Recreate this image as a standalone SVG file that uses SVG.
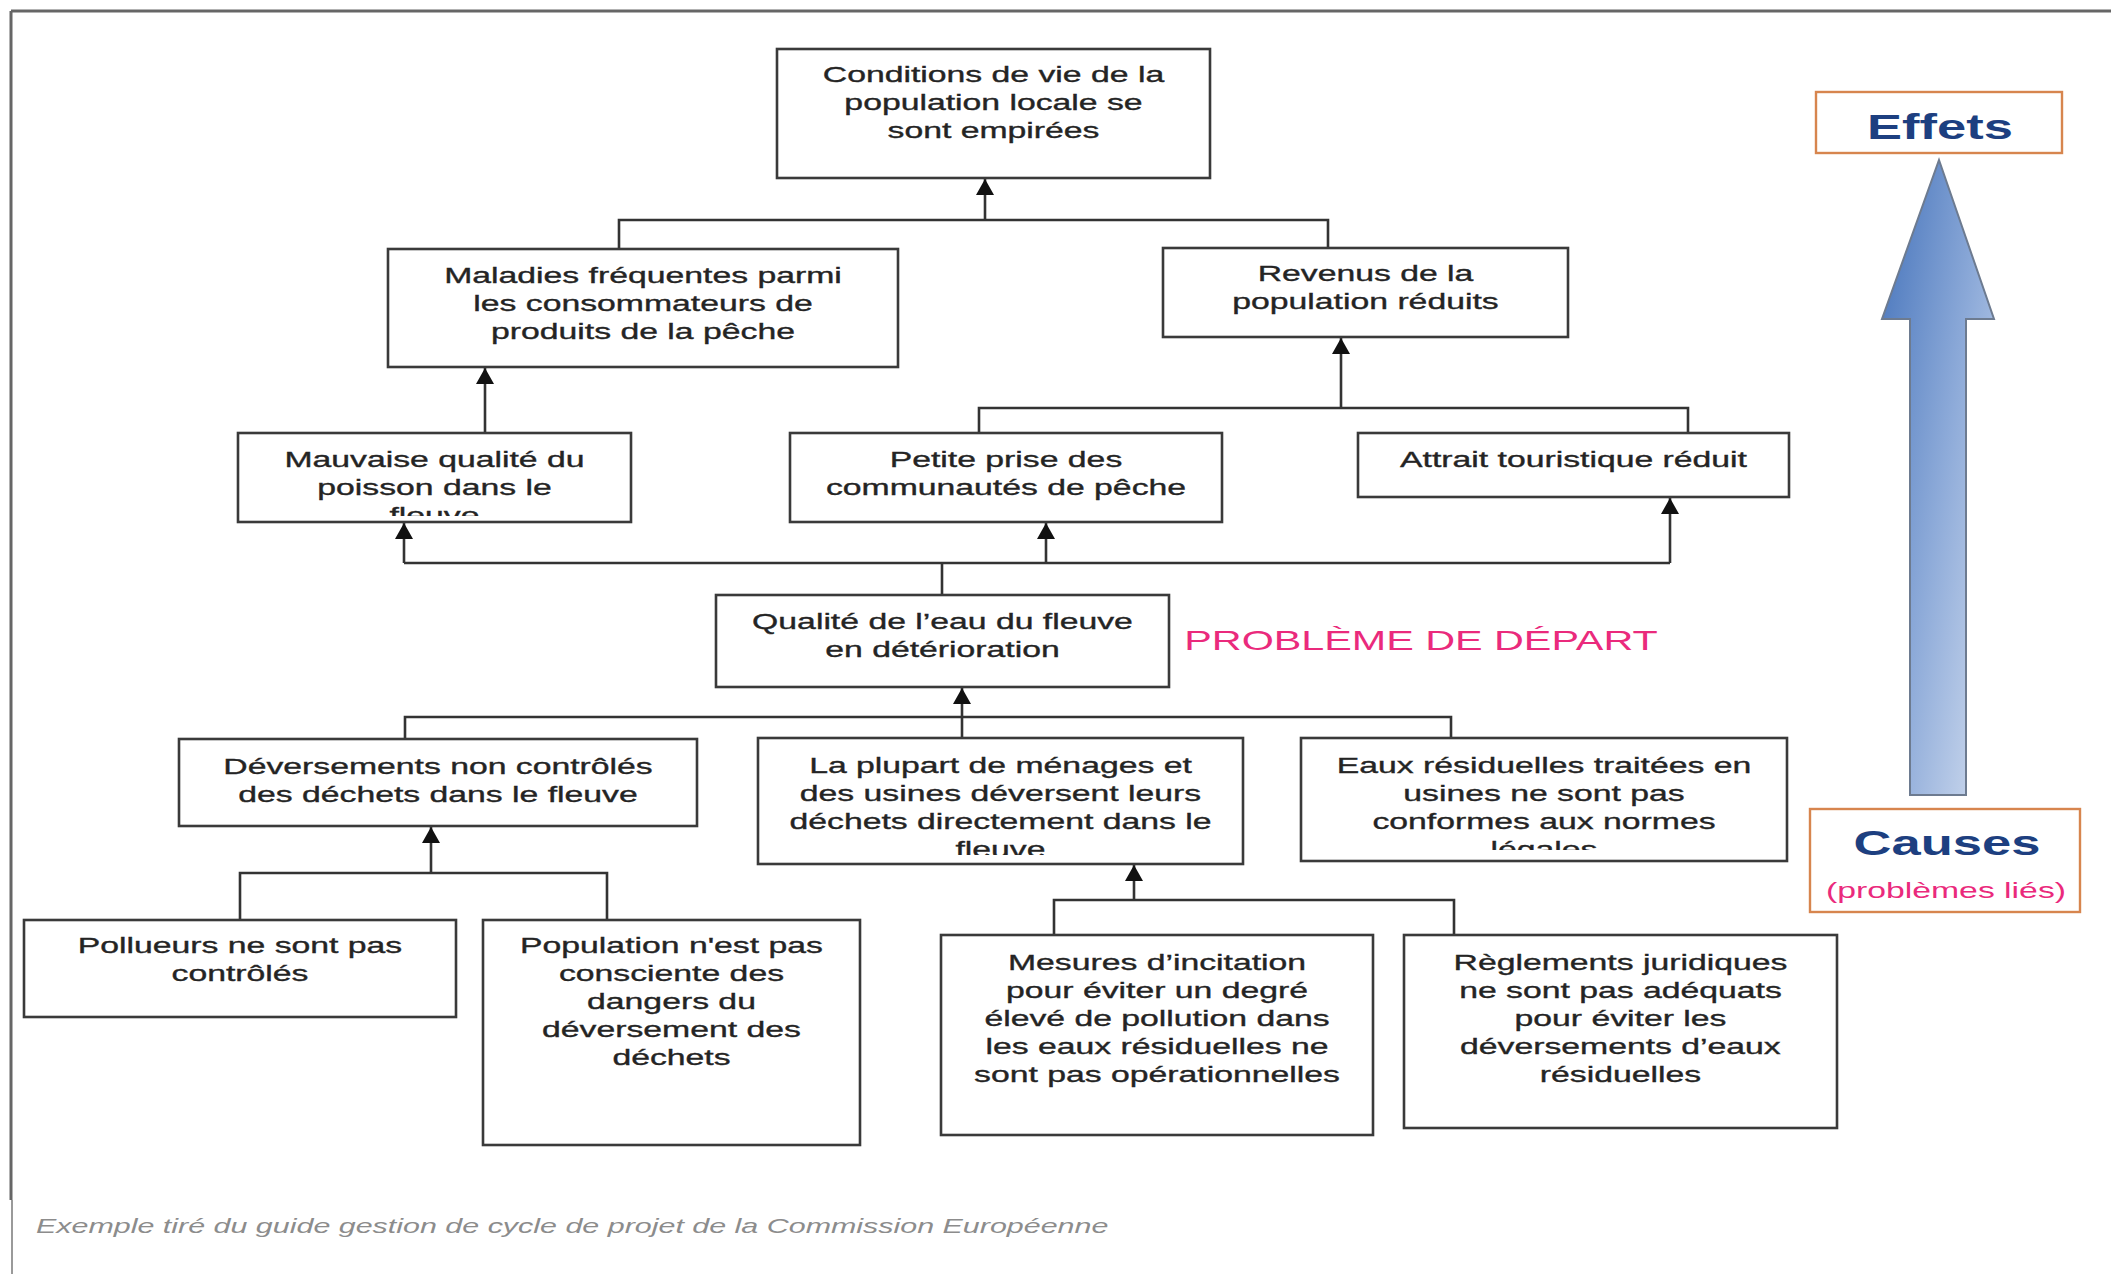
<svg xmlns="http://www.w3.org/2000/svg" width="2111" height="1274" viewBox="0 0 2111 1274">
  <style>
    .box { fill: #ffffff; stroke: #3a3a3a; stroke-width: 2.6; }
    .lbl { font-family: "Liberation Sans", Arial, Helvetica, sans-serif; font-size: 22.5px; fill: #242424; stroke: #242424; stroke-width: 0.35px; text-anchor: middle; transform-box: fill-box; transform-origin: center; transform: scaleX(1.5); }
    .wire { fill: none; stroke: #333333; stroke-width: 2.6; }
    .arrow { fill: none; stroke: #333333; stroke-width: 2.6; marker-end: url(#head); }
    .frame { fill: none; stroke: #666666; stroke-width: 3; }
    .legend { fill: #ffffff; stroke: #d7854e; stroke-width: 2.4; }
    .big { font-family: "Liberation Sans", Arial, Helvetica, sans-serif; font-weight: bold; font-size: 35px; fill: #1d3f80; text-anchor: middle; transform-box: fill-box; transform-origin: center; transform: scaleX(1.5); }
    .pink { font-family: "Liberation Sans", Arial, Helvetica, sans-serif; fill: #ea2a7c; text-anchor: middle; transform-box: fill-box; transform-origin: center; transform: scaleX(1.5); }
    .note { font-family: "Liberation Sans", Arial, Helvetica, sans-serif; font-style: italic; font-size: 20.3px; fill: #8c8c8c; transform-box: fill-box; transform-origin: 0 50%; transform: scaleX(1.5); }
  </style>
  <defs>
    <marker id="head" viewBox="0 0 16 18" refX="16" refY="9" markerWidth="16" markerHeight="18" markerUnits="userSpaceOnUse" orient="auto">
      <path d="M0,0 L16,9 L0,18 Z" fill="#111111"/>
    </marker>
    <linearGradient id="blueUp" x1="0" y1="0.1" x2="1" y2="1">
      <stop offset="0" stop-color="#4a77bd"/>
      <stop offset="0.5" stop-color="#8eabd9"/>
      <stop offset="1" stop-color="#d3def0"/>
    </linearGradient>
    <clipPath id="cutMauvaise"><rect x="238" y="433" width="393" height="83"/></clipPath>
    <clipPath id="cutPlupart"><rect x="758" y="738" width="485" height="117"/></clipPath>
    <clipPath id="cutEaux"><rect x="1301" y="738" width="486" height="112"/></clipPath>
  </defs>

  <rect x="0" y="0" width="2111" height="1274" fill="#ffffff"/>

  <!-- page frame -->
  <path class="frame" d="M11,11 H2111 M11,11 V1200"/>
  <path d="M12,1200 V1274" fill="none" stroke="#9a9a9a" stroke-width="2"/>

  <!-- connectors -->
  <g id="connectors">
    <path class="wire" d="M619,249 V220 H1328 V248"/>
    <path class="arrow" d="M985,220 V179"/>
    <path class="arrow" d="M485,433 V368"/>
    <path class="wire" d="M979,433 V408 H1688 V433"/>
    <path class="arrow" d="M1341,408 V338"/>
    <path class="wire" d="M942,595 V563 M404,563 H1670"/>
    <path class="arrow" d="M404,563 V523"/>
    <path class="arrow" d="M1046,563 V523"/>
    <path class="arrow" d="M1670,563 V498"/>
    <path class="wire" d="M405,739 V717 H1451 V738"/>
    <path class="arrow" d="M962,738 V688"/>
    <path class="wire" d="M240,920 V873 H607 V920"/>
    <path class="arrow" d="M431,873 V827"/>
    <path class="wire" d="M1054,935 V900 H1454 V935"/>
    <path class="arrow" d="M1134,900 V865"/>
  </g>

  <!-- effects -->
  <g id="n-conditions">
    <rect class="box" x="777" y="49" width="433" height="129"/>
    <text class="lbl" x="993.5" y="82">Conditions de vie de la</text>
    <text class="lbl" x="993.5" y="110">population locale se</text>
    <text class="lbl" x="993.5" y="138">sont empirées</text>
  </g>
  <g id="n-maladies">
    <rect class="box" x="388" y="249" width="510" height="118"/>
    <text class="lbl" x="643" y="283">Maladies fréquentes parmi</text>
    <text class="lbl" x="643" y="311">les consommateurs de</text>
    <text class="lbl" x="643" y="339">produits de la pêche</text>
  </g>
  <g id="n-revenus">
    <rect class="box" x="1163" y="248" width="405" height="89"/>
    <text class="lbl" x="1365.5" y="281">Revenus de la</text>
    <text class="lbl" x="1365.5" y="309">population réduits</text>
  </g>
  <g id="n-mauvaise">
    <rect class="box" x="238" y="433" width="393" height="89"/>
    <text class="lbl" x="434.5" y="467">Mauvaise qualité du</text>
    <text class="lbl" x="434.5" y="495">poisson dans le</text>
    <g clip-path="url(#cutMauvaise)">
      <text class="lbl" x="434.5" y="523">fleuve</text>
    </g>
  </g>
  <g id="n-petite">
    <rect class="box" x="790" y="433" width="432" height="89"/>
    <text class="lbl" x="1006" y="467">Petite prise des</text>
    <text class="lbl" x="1006" y="495">communautés de pêche</text>
  </g>
  <g id="n-attrait">
    <rect class="box" x="1358" y="433" width="431" height="64"/>
    <text class="lbl" x="1573.5" y="467">Attrait touristique réduit</text>
  </g>

  <!-- core problem -->
  <g id="n-qualite">
    <rect class="box" x="716" y="595" width="453" height="92"/>
    <text class="lbl" x="942.5" y="629">Qualité de l’eau du fleuve</text>
    <text class="lbl" x="942.5" y="657">en détérioration</text>
  </g>
  <g id="n-probleme">
    <text class="pink" x="1421" y="650" font-size="27" style="transform: scaleX(1.53)">PROBLÈME DE DÉPART</text>
  </g>

  <!-- causes -->
  <g id="n-deversements">
    <rect class="box" x="179" y="739" width="518" height="87"/>
    <text class="lbl" x="438" y="774">Déversements non contrôlés</text>
    <text class="lbl" x="438" y="802">des déchets dans le fleuve</text>
  </g>
  <g id="n-plupart">
    <rect class="box" x="758" y="738" width="485" height="126"/>
    <text class="lbl" x="1000.5" y="773">La plupart de ménages et</text>
    <text class="lbl" x="1000.5" y="801">des usines déversent leurs</text>
    <text class="lbl" x="1000.5" y="829">déchets directement dans le</text>
    <g clip-path="url(#cutPlupart)">
      <text class="lbl" x="1000.5" y="857">fleuve</text>
    </g>
  </g>
  <g id="n-eaux">
    <rect class="box" x="1301" y="738" width="486" height="123"/>
    <text class="lbl" x="1544" y="773">Eaux résiduelles traitées en</text>
    <text class="lbl" x="1544" y="801">usines ne sont pas</text>
    <text class="lbl" x="1544" y="829">conformes aux normes</text>
    <g clip-path="url(#cutEaux)">
      <text class="lbl" x="1544" y="857">légales</text>
    </g>
  </g>
  <g id="n-pollueurs">
    <rect class="box" x="24" y="920" width="432" height="97"/>
    <text class="lbl" x="240" y="953">Pollueurs ne sont pas</text>
    <text class="lbl" x="240" y="981">contrôlés</text>
  </g>
  <g id="n-population">
    <rect class="box" x="483" y="920" width="377" height="225"/>
    <text class="lbl" x="671.5" y="953">Population n'est pas</text>
    <text class="lbl" x="671.5" y="981">consciente des</text>
    <text class="lbl" x="671.5" y="1009">dangers du</text>
    <text class="lbl" x="671.5" y="1037">déversement des</text>
    <text class="lbl" x="671.5" y="1065">déchets</text>
  </g>
  <g id="n-mesures">
    <rect class="box" x="941" y="935" width="432" height="200"/>
    <text class="lbl" x="1157" y="970">Mesures d’incitation</text>
    <text class="lbl" x="1157" y="998">pour éviter un degré</text>
    <text class="lbl" x="1157" y="1026">élevé de pollution dans</text>
    <text class="lbl" x="1157" y="1054">les eaux résiduelles ne</text>
    <text class="lbl" x="1157" y="1082">sont pas opérationnelles</text>
  </g>
  <g id="n-reglements">
    <rect class="box" x="1404" y="935" width="433" height="193"/>
    <text class="lbl" x="1620.5" y="970">Règlements juridiques</text>
    <text class="lbl" x="1620.5" y="998">ne sont pas adéquats</text>
    <text class="lbl" x="1620.5" y="1026">pour éviter les</text>
    <text class="lbl" x="1620.5" y="1054">déversements d’eaux</text>
    <text class="lbl" x="1620.5" y="1082">résiduelles</text>
  </g>

  <!-- legend: causes to effects -->
  <g id="legend-effets">
    <rect class="legend" x="1816" y="92" width="246" height="61"/>
    <text class="big" x="1940" y="139">Effets</text>
  </g>
  <g id="legend-arrow">
    <path d="M1939,160 L1994,319 L1966,319 L1966,795 L1910,795 L1910,319 L1882,319 Z" fill="url(#blueUp)" stroke="#6d7b90" stroke-width="2" stroke-linejoin="miter"/>
  </g>
  <g id="legend-causes">
    <rect class="legend" x="1810" y="809" width="270" height="103"/>
    <text class="big" x="1947" y="855">Causes</text>
    <text class="pink" x="1946" y="898" font-size="22.5">(problèmes liés)</text>
  </g>

  <!-- source note -->
  <text class="note" x="36" y="1233">Exemple tiré du guide gestion de cycle de projet de la Commission Européenne</text>
</svg>
